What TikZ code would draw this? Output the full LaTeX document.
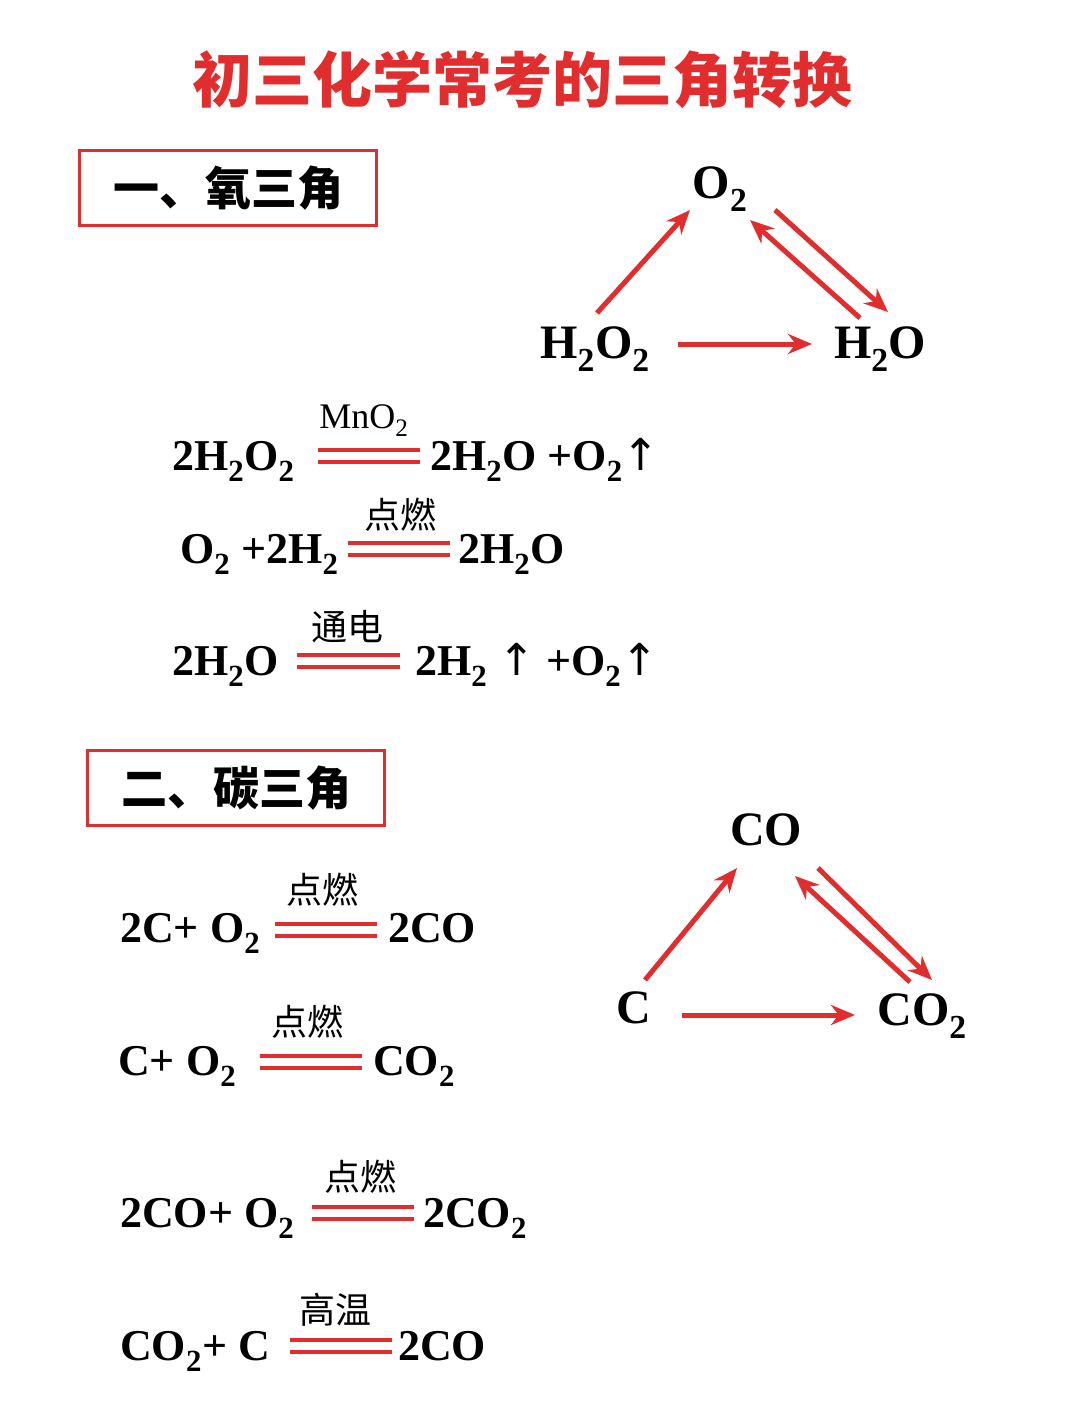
\documentclass[tikz,border=0pt]{standalone}
\usepackage{fontspec}
\setmainfont{Liberation Serif}
\newfontfamily\cjk{Noto Sans CJK SC}
\newfontfamily\arrf{DejaVu Sans}
\usetikzlibrary{arrows.meta}
\definecolor{rd}{RGB}{225,45,45}
\newcommand{\sub}[1]{\textsubscript{#1}}
\newcommand{\up}{{\arrf\mdseries ↑}}
\tikzset{
 fm/.style={font=\fontsize{44}{48}\selectfont\bfseries, anchor=base west, inner sep=0pt},
 el/.style={font=\fontsize{48}{52}\selectfont\bfseries, anchor=base, inner sep=0pt},
 cond/.style={font=\cjk\fontsize{36}{40}\selectfont, anchor=base, inner sep=0pt},
 hdr/.style={draw=rd, line width=3pt, font=\cjk\bfseries\fontsize{46}{50}\selectfont, minimum width=297pt, minimum height=75pt, inner sep=0pt},
 arr/.style={draw=rd, line width=5pt, -{Stealth[length=24pt,width=20pt]}},
 eqline/.style={draw=rd, line width=4pt}
}
\newcommand{\eqs}[3]{% x1 x2 y
 \draw[eqline] (#1,#3-6) -- (#2,#3-6); \draw[eqline] (#1,#3+6) -- (#2,#3+6);}
\begin{document}
\begin{tikzpicture}[x=1pt,y=-1pt]
\useasboundingbox[fill=white] (0,0) rectangle (1080,1416);
\node[font=\cjk\bfseries\fontsize{60}{64}\selectfont, text=rd] (title) at (522,80) {初三化学常考的三角转换};
\node[hdr] (h1) at (228,188) {一、氧三角};
\node[hdr] (h2) at (236,788) {二、碳三角};
% oxygen triangle
\node[el] (o2) at (720,198) {O\sub{2}};
\node[el] (h2o2) at (595,358) {H\sub{2}O\sub{2}};
\node[el] (h2o) at (880,358) {H\sub{2}O};
\coordinate (a1) at (597,313); \coordinate (a2) at (690,210);
\draw[arr] (a1) -- (a2);
\coordinate (b1) at (860,318); \coordinate (b2) at (750,220);
\draw[arr] (b1) -- (b2);
\coordinate (c1) at (775,210); \coordinate (c2) at (888,312);
\draw[arr] (c1) -- (c2);
\coordinate (d1) at (678,344); \coordinate (d2) at (812,344);
\draw[arr] (d1) -- (d2);
% carbon triangle
\node[el] (co) at (766,845) {CO};
\node[el] (c) at (634,1023) {C};
\node[el] (co2) at (922,1025) {CO\sub{2}};
\coordinate (e1) at (645,980); \coordinate (e2) at (737,868);
\draw[arr] (e1) -- (e2);
\coordinate (f1) at (910,982); \coordinate (f2) at (795,876);
\draw[arr] (f1) -- (f2);
\coordinate (g1) at (818,868); \coordinate (g2) at (932,980);
\draw[arr] (g1) -- (g2);
\coordinate (k1) at (682,1015); \coordinate (k2) at (855,1015);
\draw[arr] (k1) -- (k2);
% equations oxygen
\node[fm] (e1l) at (172,470) {2H\sub{2}O\sub{2}};
\node[font=\fontsize{36}{40}\selectfont, anchor=base, inner sep=0pt] (e1c) at (364,428) {MnO\sub{2}};
\eqs{318}{420}{456}
\node[fm] (e1r) at (430,470) {2H\sub{2}O +O\sub{2}\up};
\node[fm] (e2l) at (180,563) {O\sub{2} +2H\sub{2}};
\node[cond] (e2c) at (400,528) {点燃};
\eqs{348}{450}{549}
\node[fm] (e2r) at (458,563) {2H\sub{2}O};
\node[fm] (e3l) at (172,675) {2H\sub{2}O};
\node[cond] (e3c) at (347,640) {通电};
\eqs{297}{400}{661}
\node[fm] (e3r) at (415,675) {2H\sub{2} \up{} +O\sub{2}\up};
% equations carbon
\node[fm] (f1l) at (120,942) {2C+ O\sub{2}};
\node[cond] (f1c) at (322,903) {点燃};
\eqs{275}{377}{930}
\node[fm] (f1r) at (388,942) {2CO};
\node[fm] (f2l) at (118,1075) {C+ O\sub{2}};
\node[cond] (f2c) at (307,1035) {点燃};
\eqs{260}{362}{1062}
\node[fm] (f2r) at (373,1075) {CO\sub{2}};
\node[fm] (f3l) at (120,1227) {2CO+ O\sub{2}};
\node[cond] (f3c) at (360,1190) {点燃};
\eqs{312}{414}{1213}
\node[fm] (f3r) at (423,1227) {2CO\sub{2}};
\node[fm] (f4l) at (120,1360) {CO\sub{2}+ C};
\node[cond] (f4c) at (335,1323) {高温};
\eqs{290}{392}{1346}
\node[fm] (f4r) at (398,1360) {2CO};
\end{tikzpicture}
\end{document}
